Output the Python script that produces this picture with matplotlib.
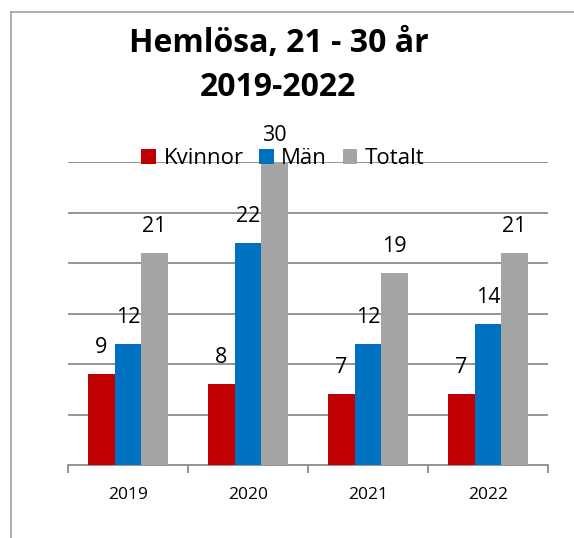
import numpy as np
import matplotlib.pyplot as plt
from matplotlib.lines import Line2D
from matplotlib.patches import Patch

years = ['2019', '2020', '2021', '2022']
kvinnor = [9, 8, 7, 7]
man = [12, 22, 12, 14]
totalt = [21, 30, 19, 21]
series_names = ['Kvinnor', 'Män', 'Totalt']
colors = ['#C00000', '#0070C0', '#A5A5A5']

plt.rcParams['font.family'] = ['Open Sans', 'DejaVu Sans']

W, H = 574, 538
fig = plt.figure(figsize=(W / 100, H / 100), dpi=100)
ax = fig.add_axes([68 / W, 1 - 465 / H, 480 / W, 303 / H])

x = np.arange(len(years))
width = 0.2222
grid_col = '#8C8C8C'

for i, (vals, col) in enumerate(zip([kvinnor, man, totalt], colors)):
    pos = x + (i - 1) * width
    ax.bar(pos, vals, width, color=col, zorder=3)
    for px, v in zip(pos, vals):
        ax.annotate(str(v), (px, v), xytext=(0, 19), textcoords='offset points',
                    ha='center', va='center', fontsize=15.5, color='black', zorder=5)

ax.set_xlim(-0.5, 3.5)
ax.set_ylim(0, 30)
ax.set_yticks([5, 10, 15, 20, 25, 30])
ax.yaxis.grid(True, color=grid_col, linewidth=1.3)
ax.set_axisbelow(True)
ax.tick_params(axis='y', left=False, labelleft=False)
for s in ['top', 'right', 'left']:
    ax.spines[s].set_visible(False)
ax.spines['bottom'].set_color(grid_col)
ax.spines['bottom'].set_linewidth(1.3)

ax.set_xticks(x)
ax.set_xticklabels(years, fontsize=12.5)
ax.set_xticks(np.arange(-0.5, 4, 1), minor=True)
ax.tick_params(axis='x', which='major', length=0, pad=16)
ax.tick_params(axis='x', which='minor', length=6, width=1.3, color=grid_col, direction='out')

fig.text(0.485, 1 - 43 / H, 'Hemlösa, 21 - 30 år', ha='center', va='center',
         fontsize=23, fontweight='bold')
fig.text(0.485, 1 - 88 / H, '2019-2022', ha='center', va='center',
         fontsize=23, fontweight='bold')

handles = [Patch(facecolor=c, edgecolor='none') for c in colors]
fig.legend(handles, series_names, loc='center', bbox_to_anchor=(283 / W, 1 - 159 / H),
           ncol=3, frameon=False, fontsize=16, handlelength=0.65, handleheight=0.65,
           handletextpad=0.35, columnspacing=0.7, borderaxespad=0)

# chart border
fig.add_artist(Line2D([10.5 / W, 10.5 / W], [0, 1 - 12 / H], color='#A0A0A0', lw=1.2))
fig.add_artist(Line2D([10.5 / W, 1], [1 - 12 / H, 1 - 12 / H], color='#A0A0A0', lw=1.2))

fig.savefig('out.png', dpi=100)
